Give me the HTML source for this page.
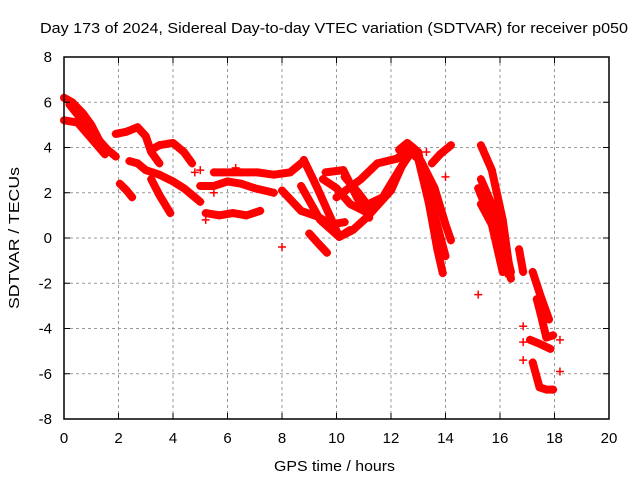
<!DOCTYPE html>
<html><head><meta charset="utf-8"><style>
html,body{margin:0;padding:0;background:#fff;}
svg{display:block;font-family:"Liberation Sans",sans-serif;}
</style></head><body>
<svg id="chart" width="640" height="480" viewBox="0 0 640 480">
<rect width="640" height="480" fill="#fff"/>
<text x="40" y="33" font-size="14.5" textLength="588" lengthAdjust="spacingAndGlyphs">Day 173 of 2024, Sidereal Day-to-day VTEC variation (SDTVAR) for receiver p050</text>
<g id="grid"></g>
<g id="marks"></g>
<g id="axes"></g>
<text x="274" y="471" font-size="14.5" textLength="121" lengthAdjust="spacingAndGlyphs">GPS time / hours</text>
<text x="167" y="19" font-size="14.5" textLength="142" lengthAdjust="spacingAndGlyphs" transform="rotate(-90) translate(-476 0)">SDTVAR / TECUs</text>
</svg>
<script>
const xTicks = [0,2,4,6,8,10,12,14,16,18,20];
const yTicks = [-8,-6,-4,-2,0,2,4,6,8];
// satellite arcs: hours / TECU
const arcX = [
 [0,0.3,0.7,1,1.3,1.6,1.9],
 [0,0.5,1,1.5],
 [1.9,2.3,2.7,3.0,3.2,3.5],
 [2.4,2.7,3.0,3.5,4.0,4.4,4.7,5.0],
 [3.2,3.5,4.0,4.4,4.7],
 [3.2,3.5,3.9],
 [2.05,2.3,2.5],
 [5.0,5.5,6.0,6.5,7.0,7.7],
 [5.2,5.7,6.2,6.7,7.2],
 [5.5,6.5,7.1,7.7,8.3,8.8],
 [8.8,9.3,10.1,10.5],
 [9.0,9.3,9.65],
 [8.7,9.4,10.1,10.6,11.1,12.0,12.7],
 [8.0,8.7,9.3,9.8,10.3],
 [9.6,10.25,10.75,11.2],
 [10.0,10.9,11.5,12.2,12.8],
 [11.0,11.7,12.3,12.8],
 [12.3,12.6,13.0,13.4,13.7,13.9],
 [12.9,13.1,13.6,14.0,14.2],
 [14.2,13.8,13.5],
 [15.3,15.7,16.1,16.4],
 [15.3,15.8,16.1,16.4],
 [15.3,15.7,16.1],
 [16.7,16.85],
 [17.2,17.5,17.8],
 [17.35,17.5,17.7,17.95],
 [17.1,17.5,17.85],
 [17.2,17.45,17.7,17.95],
 [12.4,12.8,13.2,13.6,14.0],
 [12.7,13.0,13.4,13.8],
 [15.2,15.6,16.0,16.3],
 [9.5,10.0,10.5,11.0],
 [10.3,10.8,11.3],
 [0.2,0.6,1.0,1.4]
];
const arcY = [
 [6.2,6.0,5.5,5.0,4.3,3.9,3.6],
 [5.2,5.1,4.4,3.7],
 [4.6,4.7,4.9,4.5,3.8,3.3],
 [3.4,3.3,3.0,2.8,2.5,2.2,1.9,1.6],
 [3.9,4.1,4.2,3.8,3.3],
 [2.6,1.9,1.1],
 [2.4,2.1,1.8],
 [2.3,2.3,2.5,2.4,2.2,2.0],
 [1.1,1.0,1.1,1.0,1.2],
 [2.9,2.9,2.9,2.8,2.9,3.4],
 [3.45,2.2,0.05,0.35],
 [0.2,-0.2,-0.65],
 [2.3,0.8,0.05,0.35,0.9,2.1,4.0],
 [2.1,1.2,0.95,0.6,0.7],
 [2.9,3.0,1.8,0.9],
 [1.8,2.6,3.3,3.5,4.0],
 [1.4,1.8,3.0,3.9],
 [3.9,4.2,3.8,1.5,-0.5,-1.55],
 [3.6,3.4,2.2,0.6,-0.1],
 [4.1,3.7,3.3],
 [4.1,3.0,0.8,-1.8],
 [2.6,1.2,0,-1.5],
 [1.5,0.6,-1.5],
 [-0.5,-1.5],
 [-1.5,-2.6,-3.6],
 [-2.7,-3.4,-4.4,-4.3],
 [-4.5,-4.7,-4.9],
 [-5.5,-6.6,-6.7,-6.7],
 [3.8,4.0,3.0,1.0,-0.8],
 [4.0,3.5,1.5,-1.0],
 [2.2,1.0,-0.5,-1.6],
 [2.6,2.2,1.5,1.2],
 [2.7,2.0,1.2],
 [5.9,5.3,4.6,4.1]
];
const ptX = [15.2,18.2,18.2,8.0,16.85,16.85,16.85,5.0,5.0,5.2,5.5,6.3,4.8,14.0,13.3];
const ptY = [-2.5,-4.5,-5.9,-0.4,-3.9,-4.6,-5.4,3.0,1.6,0.8,2.0,3.1,2.9,2.7,3.8];

const L=64,R=609,T=57,B=419;
const sx=v=>L+(v-0)/20*(R-L);
const sy=v=>B-(v+8)/16*(B-T);
const NS="http://www.w3.org/2000/svg";
function mk(tag,attrs,parent){const e=document.createElementNS(NS,tag);for(const k in attrs)e.setAttribute(k,attrs[k]);parent.appendChild(e);return e;}
const grid=document.getElementById('grid'),axes=document.getElementById('axes'),marks=document.getElementById('marks');
xTicks.forEach(t=>{
 const x=sx(t);
 if(t>0&&t<20){const g=mk('line',{x1:x,x2:x,y1:T,y2:B,stroke:'#999','stroke-dasharray':'3,3'},grid);
 
 }
 mk('line',{x1:x,x2:x,y1:B,y2:B-6,stroke:'#000'},axes);
 mk('line',{x1:x,x2:x,y1:T,y2:T+6,stroke:'#000'},axes);
 const tx=mk('text',{x:x,y:B+24,'font-size':15,'text-anchor':'middle'},axes);tx.textContent=t;
 
 
});
yTicks.forEach(t=>{
 const y=sy(t);
 if(t>-8&&t<8){const g=mk('line',{x1:L,x2:R,y1:y,y2:y,stroke:'#999','stroke-dasharray':'3,3'},grid);
 
 }
 mk('line',{x1:L,x2:L+6,y1:y,y2:y,stroke:'#000'},axes);
 mk('line',{x1:R,x2:R-6,y1:y,y2:y,stroke:'#000'},axes);
 const tx=mk('text',{x:L-12,y:y+5,'font-size':15,'text-anchor':'end'},axes);tx.textContent=t;
 
 
});
const fr=mk('rect',{x:L,y:T,width:R-L,height:B-T,fill:'none',stroke:'#000','stroke-width':1.5},axes);


function plus(x,y){const p=mk('path',{d:`M${x-4} ${y}h8M${x} ${y-4}v8`,stroke:'#f00','stroke-width':1.5,fill:'none'},marks);
 
 }
arcX.forEach((xs,i)=>{
 const ys=arcY[i];
 const pts=xs.map((x,j)=>sx(x)+','+sy(ys[j])).join(' ');
 const pl=mk('polyline',{points:pts,fill:'none',stroke:'#f00','stroke-width':8,'stroke-linejoin':'round','stroke-linecap':'round'},marks);
 
 
 xs.forEach((x,j)=>plus(sx(x),sy(ys[j])));
});
ptX.forEach((x,i)=>plus(sx(x),sy(ptY[i])));
</script>
</body></html>
